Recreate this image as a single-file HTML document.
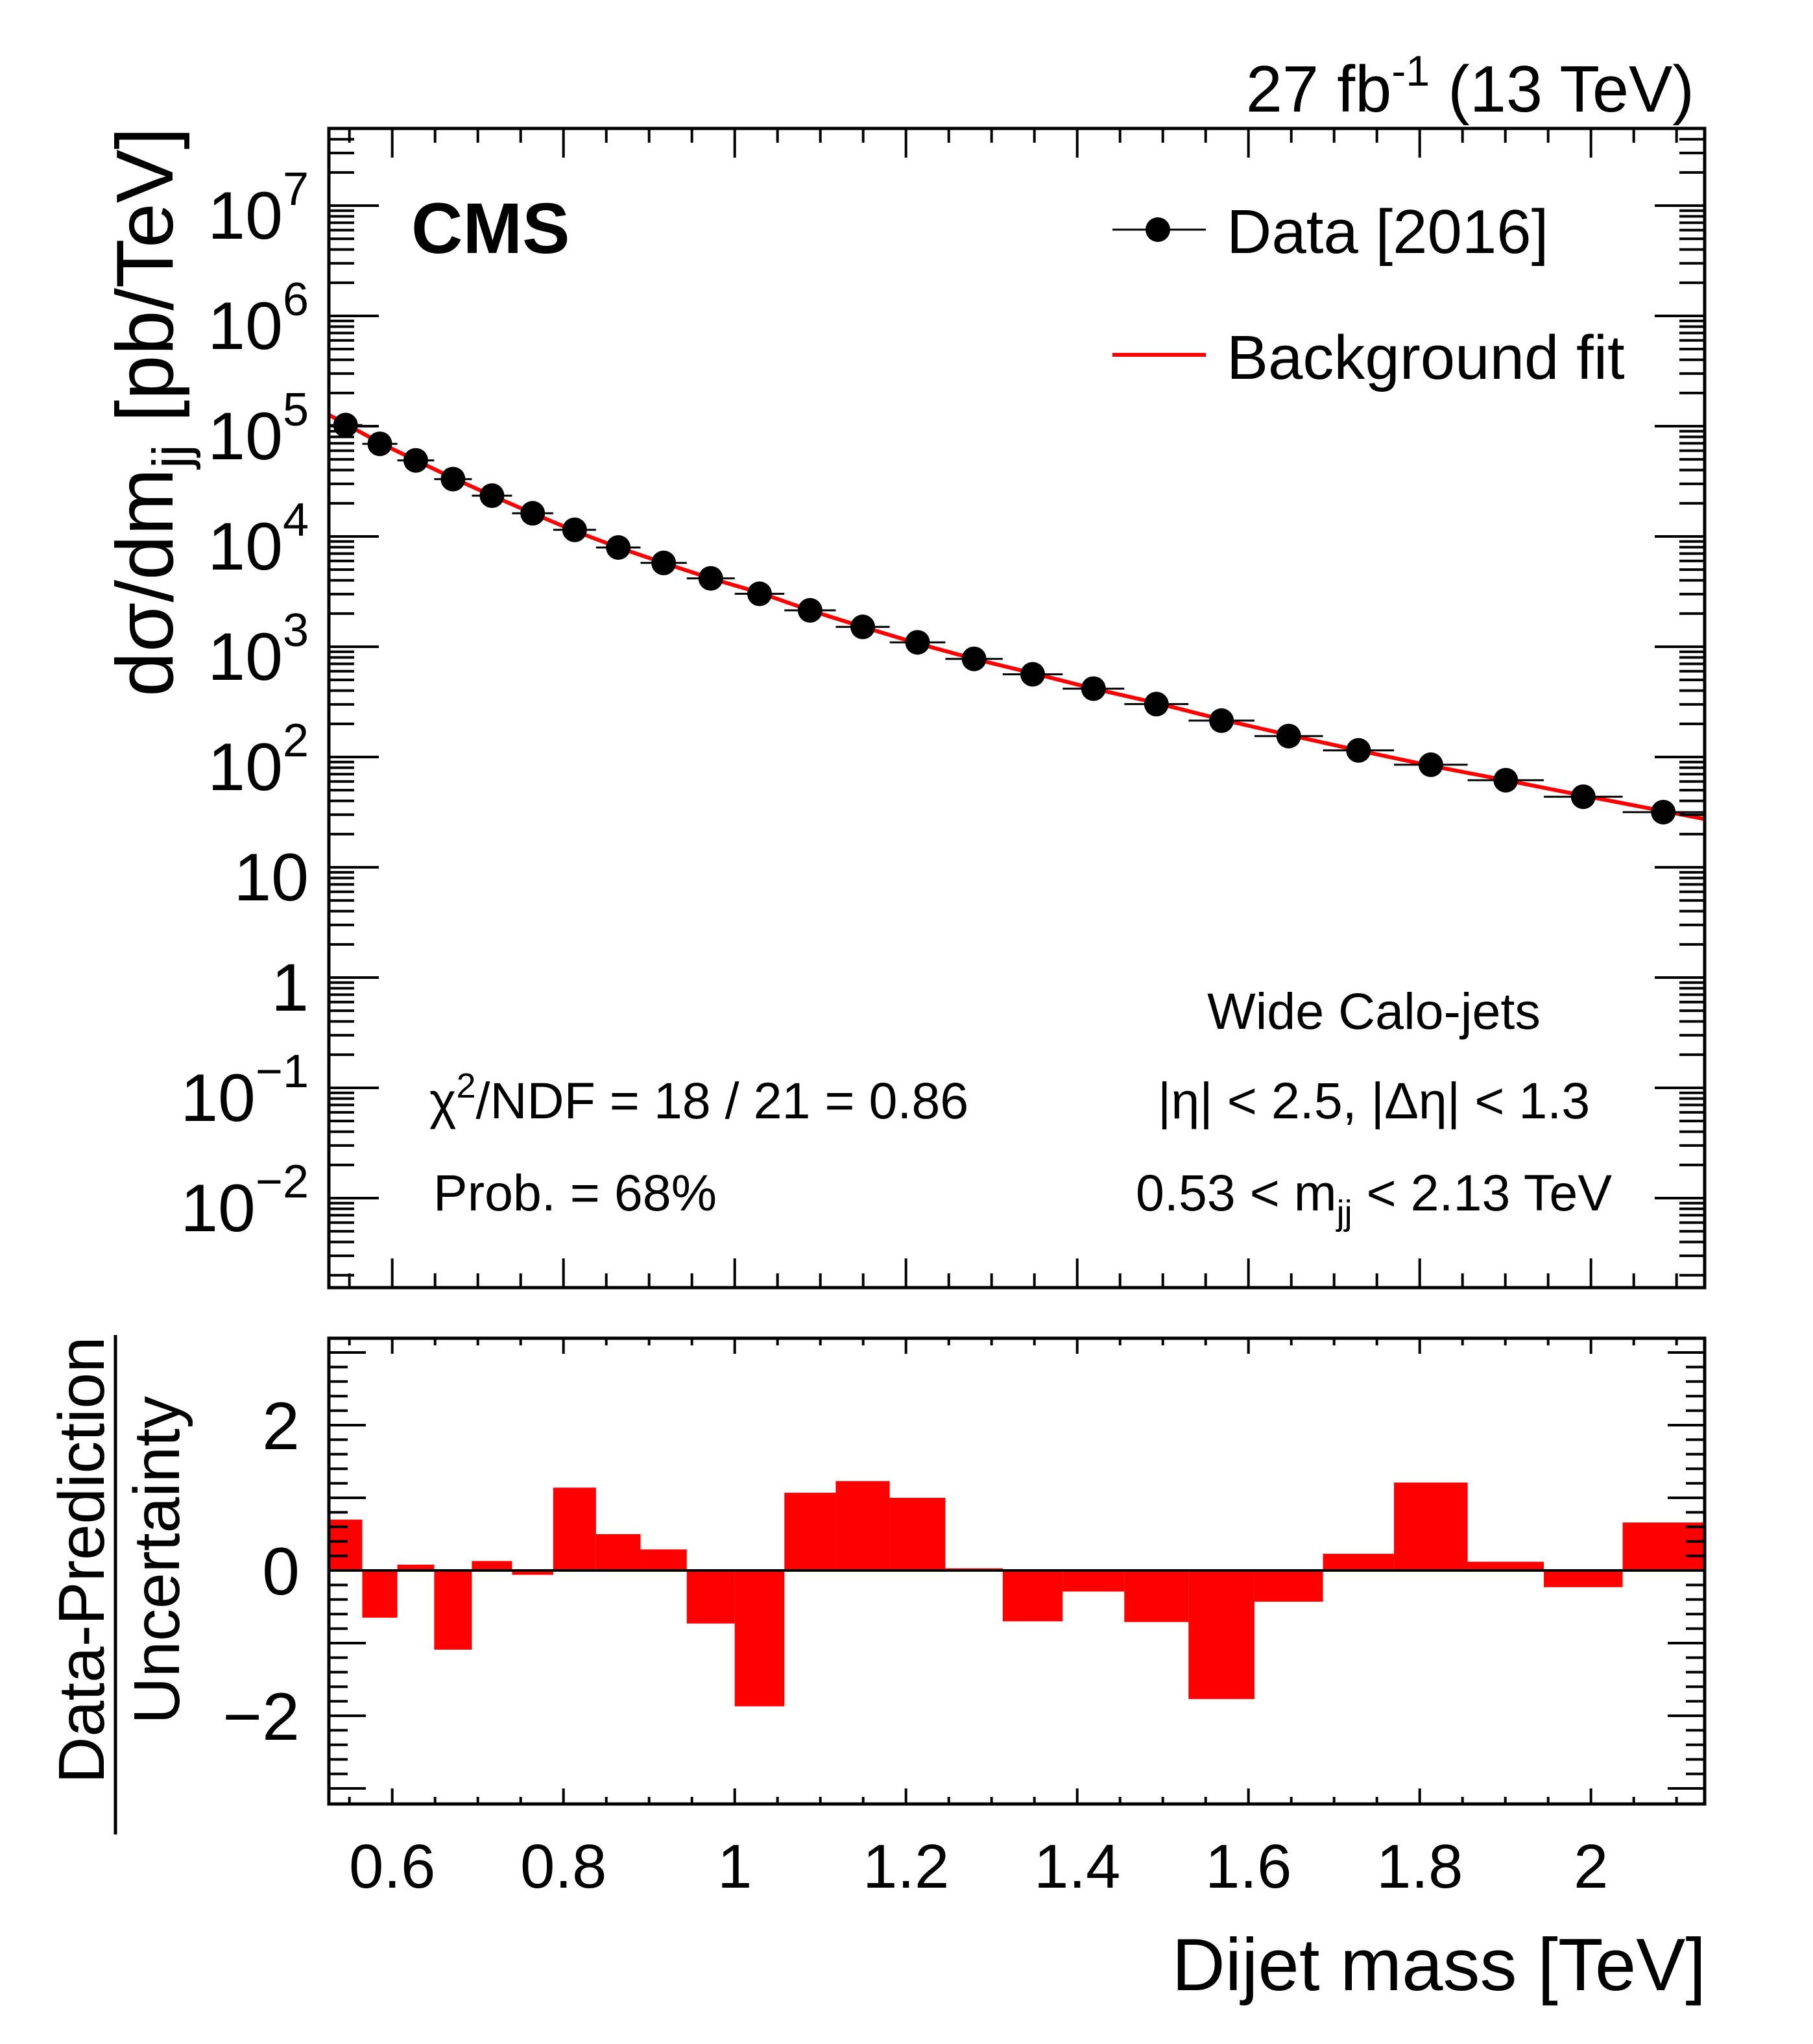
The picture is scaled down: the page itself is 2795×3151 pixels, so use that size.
<!DOCTYPE html>
<html><head><meta charset="utf-8"><style>
html,body{margin:0;padding:0;background:#fff;}
svg{display:block;font-family:"Liberation Sans",Arial,sans-serif;}
</style></head><body>
<svg id="c" width="2795" height="3151" viewBox="0 0 2795 3151" xmlns="http://www.w3.org/2000/svg">
<defs>
<clipPath id="topclip"><rect x="507" y="198" width="2121" height="1787"/></clipPath>
<clipPath id="botclip"><rect x="507" y="2063" width="2121" height="718"/></clipPath>
</defs>
<g id="topg"></g>
<g id="botg"></g>
<text x="2612" y="172" font-size="101" text-anchor="end">27 fb<tspan dy="-40" font-size="66">-1</tspan><tspan dy="40"> (13 TeV)</tspan></text>
<text x="634" y="390" font-size="110" font-weight="bold">CMS</text>
<g>
<line x1="1715" y1="354" x2="1859" y2="354" stroke="#000" stroke-width="3"/>
<circle cx="1785" cy="354" r="19" fill="#000"/>
<text x="1891" y="390" font-size="96">Data [2016]</text>
<line x1="1715" y1="547" x2="1859" y2="547" stroke="#f00" stroke-width="6"/>
<text x="1891" y="584" font-size="96">Background fit</text>
</g>
<text x="2118" y="1586" font-size="79" text-anchor="middle">Wide Calo-jets</text>
<text x="2118" y="1724" font-size="79" text-anchor="middle">|η| &lt; 2.5, |Δη| &lt; 1.3</text>
<text x="2118" y="1866" font-size="79" text-anchor="middle">0.53 &lt; m<tspan dy="22" font-size="54">jj</tspan><tspan dy="-22"> &lt; 2.13 TeV</tspan></text>
<text x="662" y="1724" font-size="79">χ<tspan dy="-32" font-size="54">2</tspan><tspan dy="32">/NDF = 18 / 21 = 0.86</tspan></text>
<text x="668" y="1866" font-size="79">Prob. = 68%</text>
<text transform="translate(266,196) rotate(-90)" font-size="124" text-anchor="end">dσ/dm<tspan dy="26" font-size="82">jj</tspan><tspan dy="-26"> [pb/TeV]</tspan></text>
<text transform="translate(160,2405) rotate(-90)" font-size="100" text-anchor="middle">Data-Prediction</text>
<line x1="178" y1="2058" x2="178" y2="2828" stroke="#000" stroke-width="5"/>
<text transform="translate(276,2405) rotate(-90)" font-size="100" text-anchor="middle">Uncertainty</text>
<text x="2630" y="3068" font-size="114" text-anchor="end">Dijet mass [TeV]</text>
</svg>
<script>
const binEdges=[0.526,0.565,0.606,0.649,0.693,0.740,0.788,0.838,0.890,0.944,1.000,1.058,1.118,1.181,1.246,1.313,1.383,1.455,1.530,1.607,1.687,1.770,1.856,1.945,2.037,2.132];
const dataLog=[5.01,4.84,4.69,4.52,4.37,4.21,4.06,3.90,3.76,3.62,3.48,3.33,3.18,3.04,2.89,2.75,2.62,2.48,2.33,2.19,2.06,1.93,1.79,1.64,1.50];
const fitLog=[5.02,4.85,4.69,4.53,4.37,4.21,4.05,3.90,3.76,3.62,3.49,3.33,3.18,3.03,2.89,2.76,2.62,2.49,2.34,2.20,2.06,1.92,1.79,1.65,1.51];
const residuals=[0.70,-0.65,0.08,-1.09,0.13,-0.06,1.14,0.50,0.29,-0.73,-1.87,1.07,1.23,1.00,0.03,-0.70,-0.29,-0.71,-1.77,-0.43,0.23,1.21,0.12,-0.23,0.66];
const xTicks=[0.6,0.8,1.0,1.2,1.4,1.6,1.8,2.0];
const xTickLabels=["0.6","0.8","1","1.2","1.4","1.6","1.8","2"];
const yDecades=[-2,-1,0,1,2,3,4,5,6,7];
const resTicks=[-2,0,2];

const NS="http://www.w3.org/2000/svg";
const X0=507,X1=2628,T0=198,T1=1985,B0=2063,B1=2781;
const xs=m=>X0+(m-0.526)*1320;
const ys=l=>317+(7-l)*170;
const yr=v=>2421-v*112;
function mk(tag,attrs,parent){const e=document.createElementNS(NS,tag);for(const k in attrs)e.setAttribute(k,attrs[k]);parent.appendChild(e);return e;}
const svgRoot=document.getElementById('c');
const topPanel=document.getElementById('topg'),botPanel=document.getElementById('botg');

const bars=mk('g',{'clip-path':'url(#botclip)'},botPanel);
residuals.forEach((r,i)=>{
 const y=Math.min(yr(r),yr(0)),h=Math.abs(yr(r)-yr(0));
 const b=mk('rect',{x:xs(binEdges[i]),y:y,width:xs(binEdges[i+1])-xs(binEdges[i]),height:h,fill:'#f00'},bars);
 
 
});
const zl=mk('line',{x1:X0,x2:X1,y1:yr(0),y2:yr(0),stroke:'#000','stroke-width':4},botPanel);



const centers=binEdges.slice(0,-1).map((e,i)=>(e+binEdges[i+1])/2);
let pts=fitLog.map((l,i)=>xs(centers[i])+','+ys(l));
const s0=(fitLog[1]-fitLog[0])/(centers[1]-centers[0]);
const n=fitLog.length,s1=(fitLog[n-1]-fitLog[n-2])/(centers[n-1]-centers[n-2]);
pts.unshift(xs(binEdges[0])+','+ys(fitLog[0]+s0*(binEdges[0]-centers[0])));
pts.push(xs(binEdges[n])+','+ys(fitLog[n-1]+s1*(binEdges[n]-centers[n-1])));
const fit=mk('polyline',{points:pts.join(' '),fill:'none',stroke:'#f00','stroke-width':6,'stroke-linejoin':'round','clip-path':'url(#topclip)'},topPanel);



dataLog.forEach((l,i)=>{
 const g=mk('g',{},topPanel);
 
 
 mk('line',{x1:xs(binEdges[i]),x2:xs(binEdges[i+1]),y1:ys(l),y2:ys(l),stroke:'#000','stroke-width':3},g);
 mk('circle',{cx:xs(centers[i]),cy:ys(l),r:19,fill:'#000'},g);
});

[[T0,T1,'spectrum-frame'],[B0,B1,'residual-frame']].forEach(([a,b,nm])=>{
 const f=mk('rect',{x:X0,y:a,width:X1-X0,height:b-a,fill:'none',stroke:'#000','stroke-width':5},svgRoot);
 
 
});

const tk=mk('g',{stroke:'#000','stroke-width':4},svgRoot);


for(let j=11;j<=42;j++){
 const mm=j*0.05;
 const major=(j%4===0);
 const x=xs(mm);
 const lt=major?45:22, lb=major?24:11;
 mk('line',{x1:x,x2:x,y1:T1,y2:T1-lt},tk);mk('line',{x1:x,x2:x,y1:T0,y2:T0+lt},tk);
 mk('line',{x1:x,x2:x,y1:B1,y2:B1-lb},tk);mk('line',{x1:x,x2:x,y1:B0,y2:B0+lb},tk);
}
xTicks.forEach((v,i)=>{
 const t=mk('text',{x:xs(v),y:2910,'font-size':96,'text-anchor':'middle'},svgRoot);
 t.textContent=xTickLabels[i];
 
 
});
for(let d=-3;d<=7;d++){
 for(let k=1;k<=9;k++){
  const l=d+Math.log10(k);const y=ys(l);
  if(y<T0+2||y>T1-2)continue;
  const len=k===1?77:39;
  mk('line',{x1:X0,x2:X0+len,y1:y,y2:y},tk);mk('line',{x1:X1,x2:X1-len,y1:y,y2:y},tk);
 }
}
yDecades.forEach(d=>{
 const y=ys(d);
 const t=mk('text',{x:476,y:y+51,'font-size':104,'text-anchor':'end'},svgRoot);
 
 
 if(d===0)t.textContent='1';
 else if(d===1)t.textContent='10';
 else{
  const a=document.createElementNS(NS,'tspan');a.textContent='10';t.appendChild(a);
  const b=document.createElementNS(NS,'tspan');b.setAttribute('dy','-52');b.setAttribute('font-size','72');b.textContent=d<0?'\u2212'+(-d):String(d);t.appendChild(b);
 }
});
for(let j=-16;j<=16;j++){
 const vv=j*0.2;const y=yr(vv);
 if(y<B0+2||y>B1-2)continue;
 const major=(j%5===0);
 const len=major?57:29;
 mk('line',{x1:X0,x2:X0+len,y1:y,y2:y},tk);mk('line',{x1:X1,x2:X1-len,y1:y,y2:y},tk);
}
resTicks.forEach(v=>{
 const t=mk('text',{x:462,y:yr(v)+37,'font-size':104,'text-anchor':'end'},svgRoot);
 t.textContent=v<0?'\u2212'+(-v):String(v);
 
 
});
</script>
</body></html>
